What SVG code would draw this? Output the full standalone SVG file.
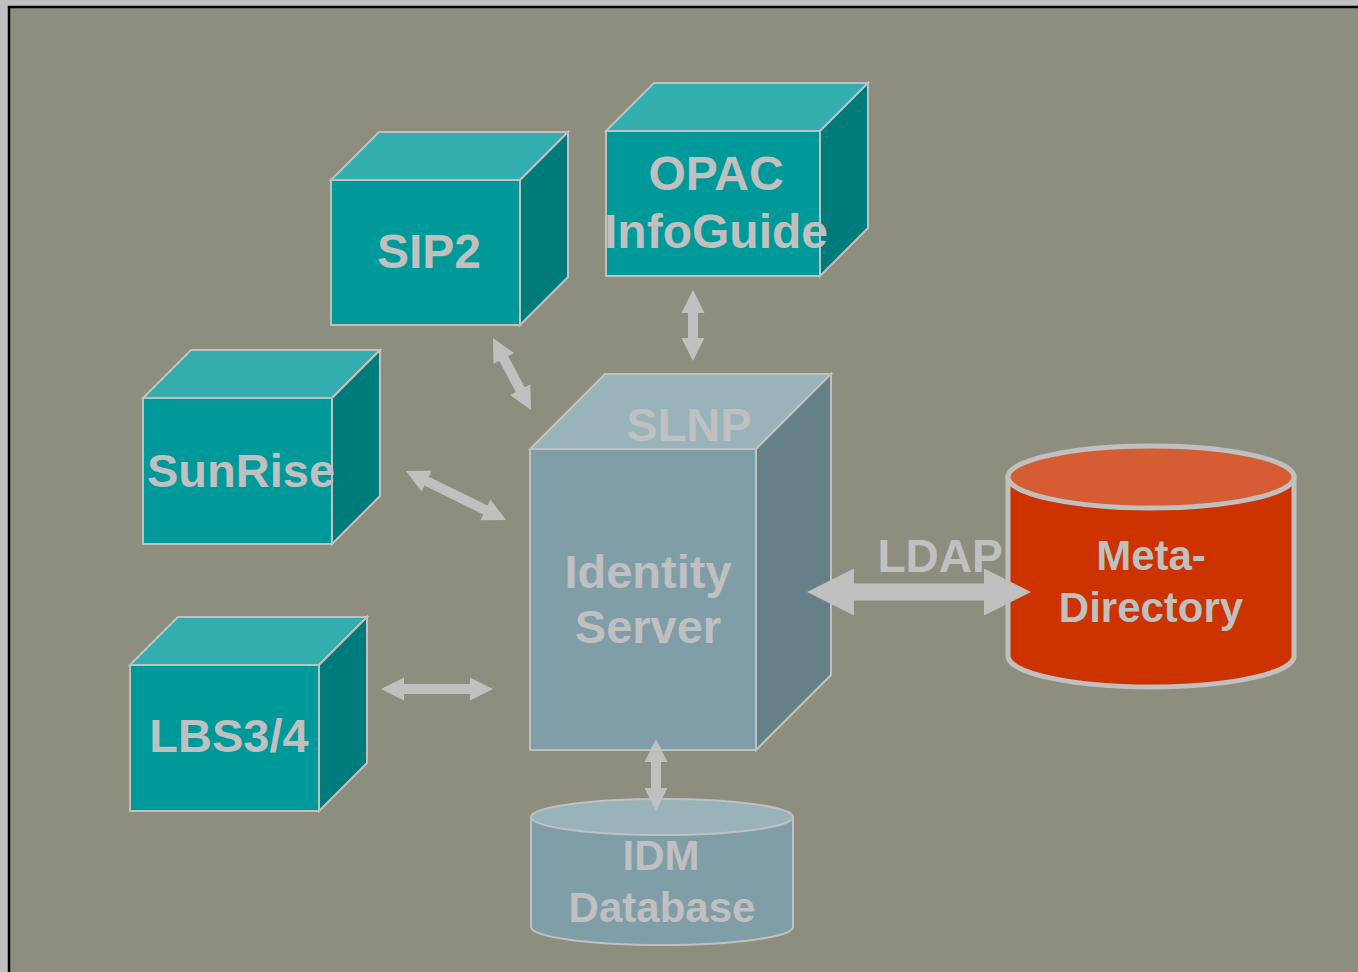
<svg xmlns="http://www.w3.org/2000/svg" width="1358" height="972" viewBox="0 0 1358 972">
<style>
.lbl{font-family:"Liberation Sans",Arial,sans-serif;font-weight:bold;fill:#c0c0c0;text-anchor:middle}
.edge{stroke:#c0c0c0;stroke-width:2;stroke-linejoin:miter}
.cf{fill:#009999}.ct{fill:#33adad}.cs{fill:#007b7b}
.sf{fill:#809ea8}.st{fill:#99b3ba}.ss{fill:#668087}
.arr{fill:#c0c0c0}
</style>
<defs>
<polygon id="dbl" points="0,0 23,-11.5 23,-5 -23,-5 -23,-11.5 0,0"/>
</defs>
<rect x="0" y="0" width="1358" height="972" fill="#c0c0c0"/>
<rect x="9" y="7" width="1360" height="980" fill="#8e8e7f" stroke="#000" stroke-width="2.5"/>

<g id="sip2">
<polygon class="ct edge" points="331,180 379,132 568,132 520,180"/>
<polygon class="cs edge" points="520,180 568,132 568,277 520,325"/>
<rect class="cf edge" x="331" y="180" width="189" height="145"/>
<text class="lbl" x="429" y="268" font-size="48">SIP2</text>
</g>

<g id="opac">
<polygon class="ct edge" points="606,131 654,83 868,83 820,131"/>
<polygon class="cs edge" points="820,131 868,83 868,228 820,276"/>
<rect class="cf edge" x="606" y="131" width="214" height="145"/>
<text class="lbl" x="716" y="190" font-size="48">OPAC</text>
<text class="lbl" x="716" y="248" font-size="48">InfoGuide</text>
</g>

<g id="sunrise">
<polygon class="ct edge" points="143,398 191,350 380,350 332,398"/>
<polygon class="cs edge" points="332,398 380,350 380,496 332,544"/>
<rect class="cf edge" x="143" y="398" width="189" height="146"/>
<text class="lbl" x="241" y="487" font-size="47">SunRise</text>
</g>

<g id="lbs">
<polygon class="ct edge" points="130,665 178,617 367,617 319,665"/>
<polygon class="cs edge" points="319,665 367,617 367,763 319,811"/>
<rect class="cf edge" x="130" y="665" width="189" height="146"/>
<text class="lbl" x="229" y="752" font-size="47">LBS3/4</text>
</g>

<g id="identity">
<polygon class="st edge" points="530,449 605,374 831,374 756,449"/>
<polygon class="ss edge" points="756,449 831,374 831,675 756,750"/>
<rect class="sf edge" x="530" y="449" width="226" height="301"/>
<text class="lbl" x="689" y="441" font-size="47">SLNP</text>
<text class="lbl" x="648" y="588" font-size="47">Identity</text>
<text class="lbl" x="648" y="643" font-size="47">Server</text>
</g>

<g id="idm">
<path class="sf edge" d="M531,817 L531,927 A131,18 0 0 0 793,927 L793,817 Z"/>
<ellipse class="st edge" cx="662" cy="817" rx="131" ry="18"/>
<text class="lbl" x="661" y="870" font-size="42">IDM</text>
<text class="lbl" x="662" y="922" font-size="42">Database</text>
</g>

<g id="meta">
<path d="M1008,477 L1008,656 A143,31 0 0 0 1294,656 L1294,477 Z" fill="#cc3300" stroke="#c0c0c0" stroke-width="5"/>
<ellipse cx="1151" cy="477" rx="143" ry="31" fill="#d65c33" stroke="#c0c0c0" stroke-width="5"/>
<text class="lbl" x="1151" y="570" font-size="42">Meta-</text>
<text class="lbl" x="1151" y="622" font-size="42">Directory</text>
</g>

<g id="connectors">
<polygon class="arr" transform="translate(493,338) rotate(62.2)" points="0,0 23,-11.5 23,-5 58.4,-5 58.4,-11.5 81.4,0 58.4,11.5 58.4,5 23,5 23,11.5"/>
<polygon class="arr" transform="translate(693,290) rotate(90)" points="0,0 23,-11.5 23,-5 48,-5 48,-11.5 71,0 48,11.5 48,5 23,5 23,11.5"/>
<polygon class="arr" transform="translate(406,471) rotate(26.1)" points="0,0 23,-11.5 23,-5 88.4,-5 88.4,-11.5 111.4,0 88.4,11.5 88.4,5 23,5 23,11.5"/>
<polygon class="arr" transform="translate(381,689)" points="0,0 23,-11.5 23,-5 89,-5 89,-11.5 112,0 89,11.5 89,5 23,5 23,11.5"/>
<polygon class="arr" transform="translate(656,739) rotate(90)" points="0,0 23,-11.5 23,-5 49,-5 49,-11.5 72,0 49,11.5 49,5 23,5 23,11.5"/>
<polygon class="arr" transform="translate(807,592)" points="0,0 47,-23.5 47,-8.5 177,-8.5 177,-23.5 224,0 177,23.5 177,8.5 47,8.5 47,23.5"/>
<text class="lbl" x="940" y="572" font-size="46">LDAP</text>
</g>
</svg>
